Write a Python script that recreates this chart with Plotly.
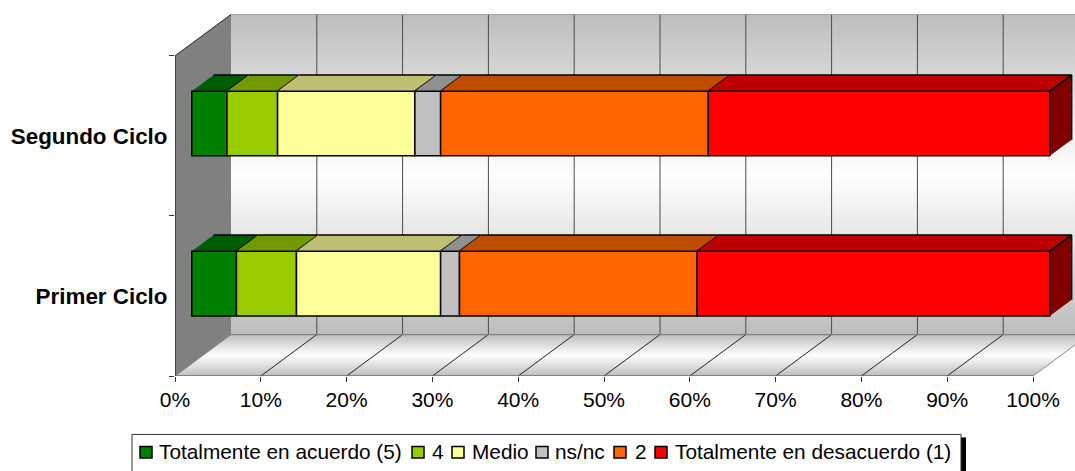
import plotly.graph_objects as go

# ---------- data ----------
categories = ["Primer Ciclo", "Segundo Ciclo"]
series_names = ["Totalmente en acuerdo (5)", "4", "Medio", "ns/nc", "2", "Totalmente en desacuerdo (1)"]
acuerdo5 = [5.2, 4.1]
cuatro = [7.0, 5.9]
medio = [16.8, 16.0]
nsnc = [2.2, 3.0]
dos = [27.7, 31.2]
desacuerdo1 = [41.1, 39.8]
series_values = [acuerdo5, cuatro, medio, nsnc, dos, desacuerdo1]
x_ticks = [0, 10, 20, 30, 40, 50, 60, 70, 80, 90, 100]
x_labels = ["0%", "10%", "20%", "30%", "40%", "50%", "60%", "70%", "80%", "90%", "100%"]

# ---------- style ----------
front_colors = ["#008000", "#99CC00", "#FFFF99", "#C0C0C0", "#FF6600", "#FF0000"]
top_colors = ["#005C00", "#739900", "#BFBF73", "#909090", "#BF4D00", "#BF0000"]
side_color = "#800000"
W, H = 1075, 471
PX0, PX100, PY0, PY2 = 175.0, 1033.0, 376.5, 56.0     # front plane of the axes
DEPTH_PX = (56.0, 41.5)                                # wall depth on screen
TOP = 8.0
ux = (PX100 - PX0) / 100
uy = (PY0 - PY2) / 2
dx, dy = DEPTH_PX[0] / ux, DEPTH_PX[1] / uy
x_range = [0, (W - PX0) / ux]
y_range = [0, (PY0 - TOP) / uy]
y_max = len(categories)
BAR_FRONT, BAR_BACK, BAR_T = 0.30, 0.69, 0.404


def P(x, y, d):
    """Oblique projection: value, category position, depth -> axis coordinates."""
    return x + d * dx, y + d * dy


def poly(points, **kw):
    xs, ys = zip(*[P(*p) for p in points])
    return go.Scatter(x=list(xs), y=list(ys), mode="lines", fill="toself", hoverinfo="skip",
                      showlegend=False, **kw)


def segs(pairs, color, width=1.0, **kw):
    xs, ys = [], []
    for a, b in pairs:
        ax, ay = P(*a)
        bx, by = P(*b)
        xs += [ax, bx, None]
        ys += [ay, by, None]
    return go.Scatter(x=xs, y=ys, mode="lines", line=dict(color=color, width=width),
                      hoverinfo="skip", showlegend=False, **kw)


fig = go.Figure()
grad = [[0, "#BDBDBD"], [0.5, "#FFFFFF"], [1, "#BDBDBD"]]

# walls and floor
fig.add_trace(poly([(0, 0, 1), (0, y_max, 1), (100, y_max, 1), (100, 0, 1)],
                   line=dict(width=0, color="#BDBDBD"),
                   fillgradient=dict(type="vertical", colorscale=grad)))
fig.add_trace(poly([(0, 0, 0), (100, 0, 0), (100, 0, 1), (0, 0, 1)],
                   line=dict(width=0, color="#BDBDBD"),
                   fillgradient=dict(type="vertical", colorscale=grad)))
fig.add_trace(poly([(0, 0, 0), (0, y_max, 0), (0, y_max, 1), (0, 0, 1)],
                   line=dict(width=0, color="#808080"), fillcolor="#808080"))
# gridlines
fig.add_trace(segs([((t, 0, 1), (t, y_max, 1)) for t in x_ticks[1:]], "#4A4A4A", 1.0))
fig.add_trace(segs([((t, 0, 0), (t, 0, 1)) for t in x_ticks[1:-1]], "#222222", 1.0))
fig.add_trace(segs([((100, 0, 0), (100, 0, 1))], "#8C8C8C", 1.0))
fig.add_trace(segs([((0, y_max, 1), (100, y_max, 1))], "#A6A6A6", 1.2))
fig.add_trace(segs([((0, 0, 1), (100, 0, 1))], "#808080", 1.2))
fig.add_trace(segs([((0, 0, 0), (0, 0, 1))], "#808080", 1.0))
fig.add_trace(segs([((0, y_max, 0), (0, y_max, 1))], "#222222", 1.0))
fig.add_trace(segs([((0, 0, 0), (100, 0, 0))], "#6E6E6E", 1.5, cliponaxis=False))
fig.add_trace(segs([((0, 0, 0), (0, y_max, 0))], "#222222", 1.3, cliponaxis=False))

# bars: front faces on an overlay so they sit above the walls
centres = [i + 0.5 for i in range(len(categories))]
cum = [0.0] * len(categories)
over = dict(xaxis="x2", yaxis="y2")
for name, vals, fc, tc in zip(series_names, series_values, front_colors, top_colors):
    bases = [c + BAR_FRONT * dx for c in cum]
    fig.add_trace(go.Bar(x=vals, y=[c + BAR_FRONT * dy for c in centres], base=bases,
                         orientation="h", width=BAR_T, name=name, showlegend=False,
                         marker=dict(color=fc, line=dict(color="black", width=1.5)), **over))
    for i, c in enumerate(centres):
        up = c + BAR_T / 2
        x0, x1 = cum[i], cum[i] + vals[i]
        fig.add_trace(poly([(x0, up, BAR_FRONT), (x1, up, BAR_FRONT), (x1, up, BAR_BACK), (x0, up, BAR_BACK)],
                           line=dict(color="black", width=1.5), fillcolor=tc, **over))
    cum = [c + v for c, v in zip(cum, vals)]
for c in centres:
    up, lo = c + BAR_T / 2, c - BAR_T / 2
    fig.add_trace(poly([(100, lo, BAR_FRONT), (100, up, BAR_FRONT), (100, up, BAR_BACK), (100, lo, BAR_BACK)],
                       line=dict(color="black", width=1.5), fillcolor=side_color, **over))

FONT = "Liberation Sans, Arial, sans-serif"


def px(x):
    return (x - PX0) / (W - PX0)


def py(y):
    return (PY0 - y) / (PY0 - TOP)


# hand-built legend box (Excel style, with its black shadow)
shapes = [
    dict(type="rect", xref="paper", yref="paper", x0=px(961), x1=px(966), y0=py(438), y1=py(490),
         fillcolor="black", line=dict(width=0)),
    dict(type="rect", xref="paper", yref="paper", x0=px(132), x1=px(961), y0=py(435), y1=py(490),
         fillcolor="white", line=dict(color="#333333", width=1)),
]
annotations = []
swatch_x = [140, 412, 452, 536, 614, 655]
text_x = [159, 432, 472, 555, 635, 675]
for name, color, sx, tx in zip(series_names, front_colors, swatch_x, text_x):
    shapes.append(dict(type="rect", xref="paper", yref="paper", x0=px(sx), x1=px(sx + 12),
                       y0=py(447), y1=py(458.5), fillcolor=color,
                       line=dict(color="black", width=1.5)))
    annotations.append(dict(text=name, xref="paper", yref="paper", x=px(tx), y=py(452.5),
                            xanchor="left", yanchor="middle", showarrow=False, xshift=-2,
                            font=dict(family=FONT, size=20.8, color="black")))

fig.update_layout(
    width=W, height=H, autosize=False,
    margin=dict(l=PX0, r=0, t=TOP, b=H - PY0, pad=0),
    paper_bgcolor="white", plot_bgcolor="white",
    barmode="overlay", showlegend=False,
    shapes=shapes, annotations=annotations,
    xaxis=dict(range=x_range, tickmode="array", tickvals=x_ticks, ticktext=x_labels,
               ticks="outside", ticklen=5, tickcolor="#333333", showgrid=False, zeroline=False,
               showline=False, tickfont=dict(family=FONT, size=21, color="black")),
    yaxis=dict(range=y_range, tickmode="array", tickvals=centres, ticktext=categories,
               ticks="outside", ticklen=2, tickcolor="rgba(0,0,0,0)", showgrid=False, zeroline=False,
               showline=False, tickfont=dict(family=FONT, size=22.4, color="black", weight="bold"),
               minor=dict(tickmode="array", tickvals=list(range(y_max + 1)), ticks="outside",
                          ticklen=5, tickcolor="#333333", showgrid=False)),
    xaxis2=dict(range=x_range, overlaying="x", anchor="y2", visible=False),
    yaxis2=dict(range=y_range, overlaying="y", anchor="x2", visible=False),
)

fig.write_html("out.html", config=dict(displayModeBar=False),
               post_script="document.body.style.margin='0';document.body.style.overflow='hidden';")
